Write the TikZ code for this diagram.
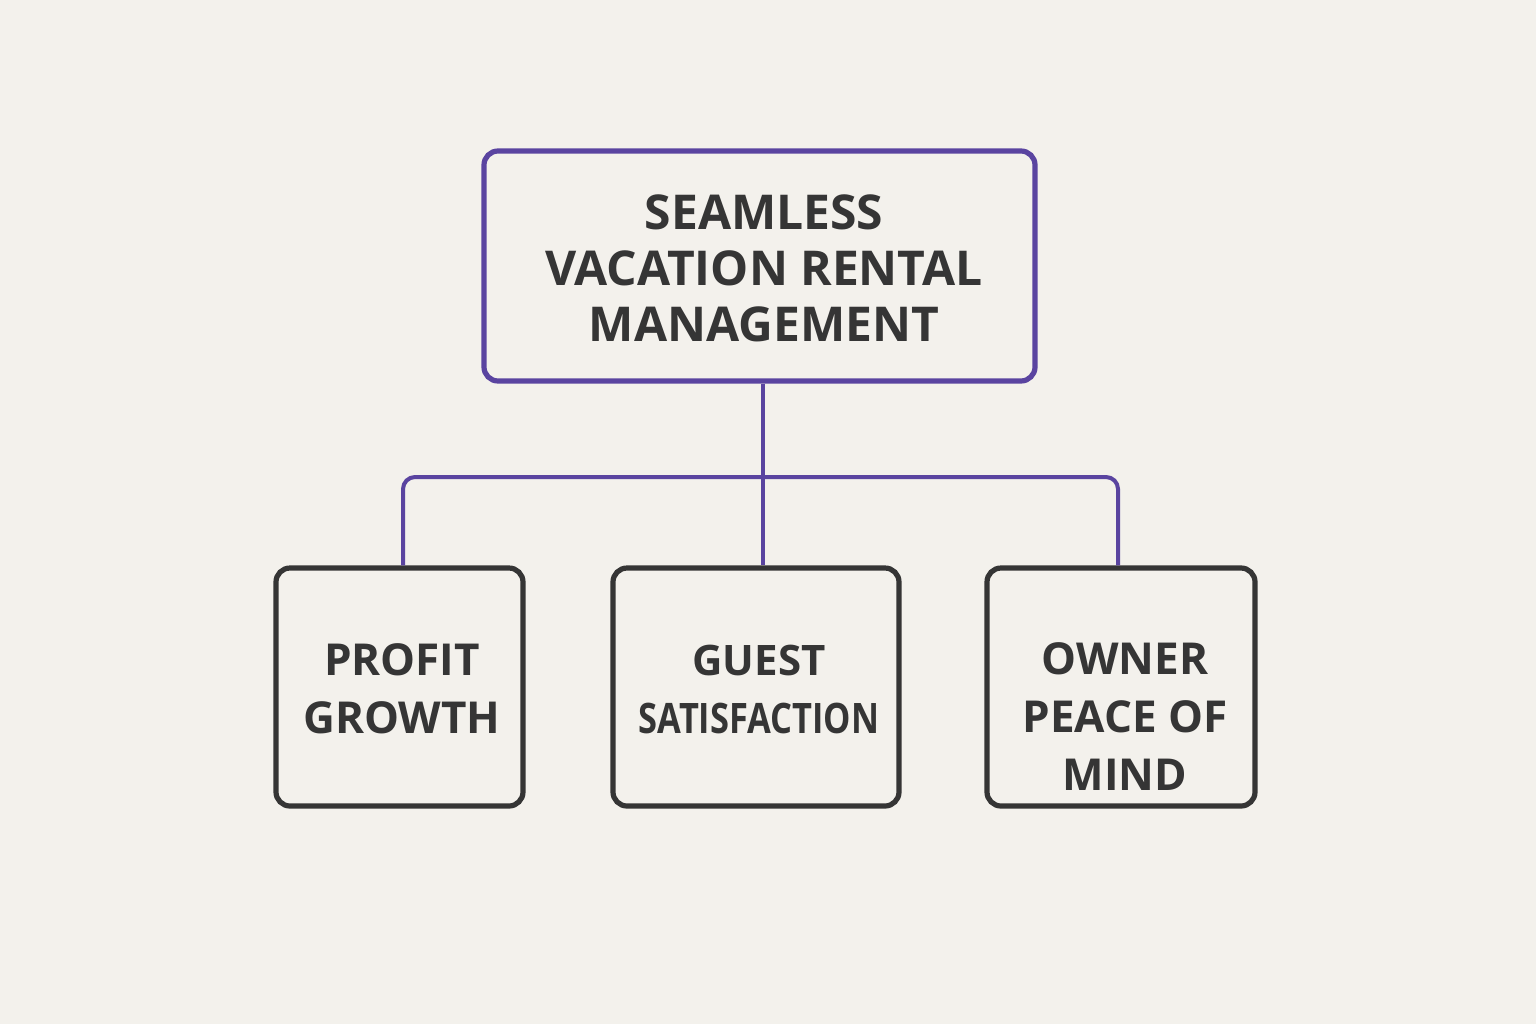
\documentclass[tikz,border=0pt]{standalone}
\usepackage{fontspec}
\setmainfont{Open Sans}
\definecolor{bg}{HTML}{F3F1EC}
\definecolor{pur}{HTML}{5A44A0}
\definecolor{ink}{HTML}{353535}
\begin{document}
\begin{tikzpicture}[x=0.5pt,y=-0.5pt,
  box/.style={draw, line width=2.6pt, rounded corners=7pt, inner sep=0pt},
  lbl/.style={text=ink, font=\bfseries\fontsize{22}{29}\selectfont, align=center},
  conn/.style={draw=pur, line width=2pt, rounded corners=6pt}]
\fill[bg] (0,0) rectangle (1536,1024);
\useasboundingbox (0,0) rectangle (1536,1024);
\node[box, draw=pur, minimum width=275.5pt, minimum height=115pt] (top) at (759.5,266) {};
\node[lbl, font=\bfseries\fontsize{24}{28}\selectfont] (toptxt) at (764,268) {SEAMLESS\\VACATION RENTAL\\MANAGEMENT};
\node[box, draw=ink, minimum width=123.5pt, minimum height=119pt] (b1) at (399.5,687) {};
\node[box, draw=ink, minimum width=143pt, minimum height=119pt] (b2) at (756,687) {};
\node[box, draw=ink, minimum width=134pt, minimum height=119pt] (b3) at (1121,687) {};
\node[lbl] (t1) at (402,689) {PROFIT\\GROWTH};
\node[lbl, font=\bfseries\fontsize{21}{29}\selectfont] (t2) at (759,689) {GUEST\\\scalebox{0.82}[1]{SATISFACTION}};
\node[lbl] (t3) at (1125,717) {OWNER\\PEACE OF\\MIND};
\coordinate (j) at (763,477);
\draw[conn] (top.south -| j) -- (j);
\draw[conn] (b1.north -| 403,0) -- (403,477) -- (1118,477) -- (b3.north -| 1118,0);
\draw[conn] (j) -- (b2.north -| j);
\end{tikzpicture}
\end{document}
